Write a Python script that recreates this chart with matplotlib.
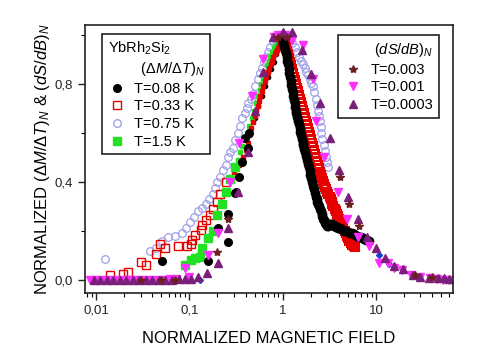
import matplotlib
matplotlib.use("Agg")
import matplotlib.pyplot as plt
from matplotlib.ticker import FixedLocator, FuncFormatter, LogLocator, NullFormatter
from matplotlib.lines import Line2D

plt.rcParams['font.family'] = ['Liberation Sans', 'DejaVu Sans']
plt.rcParams['mathtext.fontset'] = 'custom'
plt.rcParams['mathtext.rm'] = 'Liberation Sans'
plt.rcParams['mathtext.it'] = 'Liberation Sans:italic'

# --- (dM/dT)_N data, YbRh2Si2 ---
# T = 0.08 K (black): scattered low-field points, hidden rise, dense fall
b008_low_x = [0.051, 0.16, 0.205, 0.26, 0.26, 0.31, 0.32, 0.34, 0.37, 0.39, 0.42, 0.44]
b008_low_y = [0.078, 0.078, 0.21, 0.155, 0.27, 0.355, 0.36, 0.42, 0.48, 0.58, 0.54, 0.60]
b008_rise_x = [0.5, 0.55, 0.6, 0.65, 0.7, 0.75, 0.8, 0.85, 0.9, 0.95]
b008_rise_y = [0.66, 0.71, 0.75, 0.79, 0.83, 0.86, 0.89, 0.92, 0.945, 0.96]
b008_fall_x = [1.00, 1.02, 1.04, 1.06, 1.08, 1.10, 1.12, 1.14, 1.16, 1.18, 1.20, 1.22, 1.24,
               1.26, 1.28, 1.30, 1.32, 1.34, 1.36, 1.38, 1.40, 1.43, 1.46, 1.49, 1.52, 1.55,
               1.58, 1.61, 1.64, 1.67, 1.70, 1.74, 1.78, 1.82, 1.86, 1.90, 1.94, 1.98, 2.02,
               2.06, 2.11, 2.16, 2.21, 2.26, 2.31, 2.36, 2.41, 2.46, 2.51, 2.56, 2.61, 2.66,
               2.71, 2.76, 2.81, 2.86, 2.91, 2.96, 3.01, 3.07, 3.13, 3.2, 3.28, 3.36, 3.45,
               3.55, 3.65, 3.75, 3.85, 3.95, 4.1, 4.25, 4.4, 4.6, 4.8, 5.0, 5.25, 5.5, 5.75,
               6.0, 6.3, 6.6, 6.9, 7.2, 7.5, 7.8, 8.1, 8.4]
b008_fall_y = [0.97, 0.965, 0.955, 0.94, 0.925, 0.91, 0.895, 0.88, 0.86, 0.845, 0.83, 0.81, 0.795,
               0.78, 0.765, 0.75, 0.735, 0.72, 0.705, 0.69, 0.68, 0.665, 0.65, 0.635, 0.62, 0.605,
               0.59, 0.575, 0.56, 0.55, 0.535, 0.52, 0.505, 0.49, 0.475, 0.46, 0.445, 0.43, 0.415,
               0.40, 0.385, 0.37, 0.355, 0.34, 0.33, 0.32, 0.31, 0.30, 0.29, 0.28, 0.27, 0.26,
               0.25, 0.245, 0.238, 0.232, 0.227, 0.223, 0.22, 0.222, 0.226, 0.23, 0.23, 0.228, 0.225,
               0.222, 0.22, 0.218, 0.215, 0.213, 0.21, 0.207, 0.205, 0.20, 0.198, 0.195, 0.192, 0.19, 0.187,
               0.184, 0.18, 0.177, 0.174, 0.17, 0.167, 0.164, 0.162, 0.16]

# T = 0.33 K (red)
b033_low_x = [0.0141, 0.0195, 0.022, 0.0305, 0.0345, 0.044, 0.048, 0.055, 0.076, 0.095,
              0.105, 0.108, 0.116, 0.132, 0.138, 0.149, 0.168, 0.18, 0.2, 0.215, 0.245]
b033_low_y = [0.02, 0.024, 0.033, 0.073, 0.06, 0.106, 0.147, 0.13, 0.139, 0.139,
              0.147, 0.163, 0.184, 0.204, 0.224, 0.245, 0.265, 0.29, 0.32, 0.35, 0.40]
b033_rise_x = [0.27, 0.3, 0.32, 0.34, 0.36, 0.376, 0.4, 0.42, 0.44, 0.46, 0.48, 0.5,
               0.52, 0.54, 0.557, 0.573, 0.595, 0.62, 0.645, 0.67, 0.695, 0.72, 0.745,
               0.77, 0.795, 0.82, 0.845, 0.87, 0.89, 0.91, 0.93, 0.95, 0.965, 0.98]
b033_rise_y = [0.42, 0.44, 0.455, 0.47, 0.485, 0.50, 0.53, 0.56, 0.59, 0.62, 0.645, 0.67,
               0.69, 0.71, 0.73, 0.75, 0.77, 0.79, 0.81, 0.83, 0.848, 0.865, 0.88,
               0.895, 0.908, 0.92, 0.93, 0.94, 0.948, 0.955, 0.962, 0.97, 0.975, 0.98]
b033_fall_x = [1.00, 1.03, 1.06, 1.09, 1.12, 1.15, 1.18, 1.21, 1.24, 1.27, 1.30, 1.33, 1.36,
               1.39, 1.42, 1.46, 1.50, 1.54, 1.58, 1.62, 1.66, 1.70, 1.74, 1.78, 1.82, 1.86,
               1.91, 1.96, 2.01, 2.06, 2.11, 2.16, 2.22, 2.28, 2.34, 2.40, 2.46, 2.52, 2.59,
               2.66, 2.73, 2.80, 2.87, 2.94, 3.02, 3.10, 3.18, 3.26, 3.34, 3.42, 3.50, 3.60,
               3.70, 3.80, 3.90, 4.00, 4.12, 4.24, 4.36, 4.48, 4.62, 4.76, 4.90, 5.05, 5.2,
               5.4, 5.6, 5.8, 5.95]
b033_fall_y = [0.98, 0.975, 0.965, 0.95, 0.935, 0.92, 0.905, 0.89, 0.875, 0.86, 0.845, 0.83, 0.815,
               0.80, 0.785, 0.77, 0.755, 0.74, 0.725, 0.71, 0.695, 0.68, 0.665, 0.65, 0.635, 0.62,
               0.605, 0.59, 0.575, 0.56, 0.545, 0.53, 0.515, 0.50, 0.485, 0.47, 0.455, 0.44, 0.428,
               0.415, 0.403, 0.392, 0.38, 0.37, 0.36, 0.35, 0.34, 0.33, 0.32, 0.31, 0.30, 0.29,
               0.28, 0.27, 0.26, 0.25, 0.24, 0.23, 0.22, 0.21, 0.20, 0.19, 0.18, 0.17, 0.16,
               0.15, 0.143, 0.138, 0.135]

# T = 0.75 K (lavender)
b075_x = [0.0125, 0.038, 0.044, 0.051, 0.059, 0.07, 0.084, 0.093, 0.102, 0.112, 0.124,
          0.136, 0.149, 0.162, 0.177, 0.19,
          0.2, 0.215, 0.232, 0.245, 0.26, 0.275, 0.29, 0.31, 0.33, 0.35, 0.37, 0.39, 0.41,
          0.43, 0.455, 0.48, 0.51, 0.54, 0.57, 0.6, 0.635, 0.67, 0.705, 0.74, 0.78, 0.82,
          0.86, 0.9, 0.95, 1.0, 1.05, 1.1, 1.15, 1.2, 1.27, 1.35, 1.42, 1.5, 1.57, 1.65,
          1.72, 1.8, 1.87, 1.95, 2.02, 2.1, 2.17, 2.25, 2.32, 2.4, 2.45, 2.5, 2.55, 2.6,
          2.67, 2.75, 2.82, 2.9, 2.97, 3.05]
b075_y = [0.085, 0.12, 0.13, 0.16, 0.175, 0.18, 0.19, 0.21, 0.235, 0.255, 0.28,
          0.295, 0.31, 0.33, 0.35, 0.375,
          0.40, 0.42, 0.45, 0.47, 0.50, 0.52, 0.54, 0.57, 0.60, 0.63, 0.66, 0.68, 0.70,
          0.72, 0.74, 0.76, 0.79, 0.82, 0.845, 0.865, 0.89, 0.91, 0.93, 0.95, 0.97, 0.985,
          0.995, 1.0, 1.0, 1.0, 0.995, 0.99, 0.985, 0.98, 0.965, 0.95, 0.93, 0.91, 0.895, 0.88,
          0.865, 0.85, 0.835, 0.82, 0.805, 0.79, 0.765, 0.74, 0.715, 0.69, 0.67, 0.65, 0.625, 0.60,
          0.575, 0.55, 0.525, 0.50, 0.48, 0.46]

# T = 1.5 K (green)
b15_low_x = [0.0905, 0.105, 0.116, 0.13, 0.138, 0.16, 0.177, 0.2, 0.225, 0.244, 0.275, 0.31]
b15_low_y = [0.061, 0.082, 0.09, 0.094, 0.13, 0.17, 0.20, 0.265, 0.31, 0.36, 0.41, 0.46]
b15_rest_x = [0.33, 0.35, 0.37, 0.39, 0.415, 0.44, 0.465, 0.49, 0.515, 0.54, 0.565, 0.59,
              0.62, 0.65, 0.68, 0.71, 0.74, 0.77, 0.8, 0.83, 0.86, 0.89, 0.92, 0.95, 0.98,
              1.0, 1.1, 1.25, 1.45, 1.7, 2.0, 2.4, 2.9, 3.5, 4.5, 6.0, 7.5, 8.4]
b15_rest_y = [0.49, 0.52, 0.545, 0.57, 0.60, 0.63, 0.66, 0.69, 0.72, 0.75, 0.775, 0.80,
              0.825, 0.85, 0.875, 0.895, 0.915, 0.93, 0.945, 0.955, 0.965, 0.972, 0.978, 0.98, 0.978,
              0.97, 0.92, 0.80, 0.67, 0.54, 0.42, 0.32, 0.24, 0.22, 0.20, 0.185, 0.17, 0.16]

# --- (dS/dB)_N data ---
# T = 0.003 (stars)
s003_x = [0.03, 0.05, 0.07, 0.2, 0.26, 0.9, 1.1, 4.1, 5.2, 6.6, 26, 40]
s003_y = [0.0, 0.0, 0.0, 0.114, 0.25, 0.99, 0.99, 0.42, 0.31, 0.22, 0.02, 0.01]

# T = 0.001 (magenta down triangles)
s001_x = [0.0085, 0.0098, 0.0115, 0.0135, 0.016, 0.019, 0.022, 0.026, 0.031, 0.037,
          0.044, 0.052, 0.062, 0.072, 0.09, 0.098, 0.16, 0.205, 0.27, 0.34, 0.47,
          0.61, 0.8, 0.9, 1.05, 1.25, 1.64, 2.1, 2.3, 2.75, 3.9, 4.9, 6.4, 8.4, 10.9,
          13.5, 15.6, 19, 24, 30, 38, 45, 52, 60]
s001_y = [0.0, 0.0, 0.0, 0.0, 0.0, 0.0, 0.0, 0.0, 0.0, 0.0,
          0.0, 0.0, 0.005, 0.005, 0.05, 0.012, 0.10, 0.19, 0.40, 0.56, 0.75,
          0.90, 0.99, 1.0, 1.0, 0.98, 0.96, 0.82, 0.65, 0.50, 0.36, 0.25, 0.175, 0.14, 0.07,
          0.07, 0.05, 0.04, 0.02, 0.012, 0.008, 0.005, 0.0, 0.0]

# T = 0.0003 (purple up triangles)
s0003_x = [0.0095, 0.011, 0.013, 0.015, 0.018, 0.021, 0.025, 0.029, 0.034, 0.04,
           0.047, 0.055, 0.065, 0.077, 0.09, 0.105, 0.125, 0.155, 0.205, 0.26, 0.33,
           0.43, 0.51, 0.62, 0.78, 1.0, 1.27, 1.6, 2.0, 2.5, 3.2, 4.0, 5.0, 6.4, 8.0, 10,
           12.5, 15.6, 19.5, 25, 30, 37, 46, 53, 61]
s0003_y = [0.0, 0.0, 0.0, 0.0, 0.0, 0.0, 0.0, 0.0, 0.0, 0.0,
           0.0, 0.0, 0.0, 0.005, 0.005, 0.005, 0.012, 0.03, 0.07, 0.21, 0.36,
           0.52, 0.69, 0.85, 0.99, 1.01, 1.01, 0.94, 0.84, 0.72, 0.58, 0.45, 0.34, 0.25, 0.175, 0.13,
           0.09, 0.057, 0.045, 0.02, 0.012, 0.008, 0.008, 0.006, 0.005]

# a few small extra symbols (not in legend)
extra_x = [0.04, 0.05, 0.13, 10.8, 13.8]
extra_y = [0.0, 0.0, 0.0, 0.10, 0.065]

yticks = [0.0, 0.4, 0.8]
yminor = [0.2, 0.6, 1.0]
xticks = [0.01, 0.1, 1, 10]

BLACK = 'black'
RED = '#e60000'
LAV = '#a0a0ea'
GREEN = '#22e022'
MAG = '#ff30ff'
PURP = '#7a1f7a'
BROWN = '#6b2020'


def comma(v, pos):
    if v >= 1:
        return "%d" % v
    s = "%g" % v if v < 0.05 else "%.1f" % v
    return s.replace(".", ",")


def main():
    fig = plt.figure(figsize=(4.94, 3.63), dpi=100)
    ax = fig.add_axes([0.172, 0.193, 0.745, 0.738])

    ms = 5.5
    ax.plot(b075_x, b075_y, 'o', ms=ms, mfc='none', mec=LAV, mew=0.9, ls='none')
    ax.plot(b008_rise_x, b008_rise_y, 'o', ms=3, color=BLACK, ls='none')
    ax.plot(b15_rest_x, b15_rest_y, 's', ms=3, color=GREEN, ls='none')
    ax.plot(b033_rise_x, b033_rise_y, 's', ms=2.5, color=RED, ls='none')
    ax.plot(b033_low_x, b033_low_y, 's', ms=ms, mfc='none', mec=RED, mew=1.0, ls='none')
    ax.plot(b033_fall_x, b033_fall_y, 's', ms=ms, mfc='none', mec=RED, mew=1.5, ls='none')
    ax.plot(b15_low_x, b15_low_y, 's', ms=ms, color=GREEN, ls='none')
    ax.plot(b008_low_x, b008_low_y, 'o', ms=ms, color=BLACK, ls='none')
    ax.plot(b008_fall_x, b008_fall_y, 'o', ms=ms + 0.5, color=BLACK, ls='none')
    ax.plot(extra_x, extra_y, 'D', ms=3, color='#1a3fd0', ls='none')
    ax.plot(s001_x, s001_y, 'v', ms=ms, color=MAG, ls='none')
    ax.plot(s0003_x, s0003_y, '^', ms=ms, color=PURP, ls='none')
    ax.plot(s003_x, s003_y, '*', ms=6, color=BROWN, ls='none')

    ax.set_xscale('log')
    ax.set_xlim(0.0076, 67)
    ax.set_ylim(-0.053, 1.04)

    ax.xaxis.set_major_locator(FixedLocator(xticks))
    ax.xaxis.set_major_formatter(FuncFormatter(comma))
    ax.xaxis.set_minor_locator(LogLocator(base=10, subs=range(2, 10)))
    ax.xaxis.set_minor_formatter(NullFormatter())
    ax.yaxis.set_major_locator(FixedLocator(yticks))
    ax.yaxis.set_minor_locator(FixedLocator(yminor))
    ax.yaxis.set_major_formatter(FuncFormatter(lambda v, p: ("%.1f" % v).replace(".", ",")))

    ax.tick_params(which='major', direction='out', length=5, width=1.0, labelsize=9.5,
                   colors='#222222', top=False, right=False)
    ax.tick_params(which='minor', direction='out', length=3, width=0.8, top=False, right=False)
    for sp in ax.spines.values():
        sp.set_linewidth(1.2)
        sp.set_color('#222222')

    ax.set_xlabel("NORMALIZED MAGNETIC FIELD", fontsize=12, labelpad=10)
    ax.set_ylabel(r"NORMALIZED $(\mathit{\Delta M/\Delta T})_N$ & $(dS/dB)_N$",
                  fontsize=12, labelpad=2)

    h1 = [Line2D([], [], marker='o', ms=ms, color=BLACK, ls='none'),
          Line2D([], [], marker='s', ms=ms, mfc='white', mec=RED, ls='none'),
          Line2D([], [], marker='o', ms=ms, mfc='none', mec=LAV, ls='none'),
          Line2D([], [], marker='s', ms=ms, color=GREEN, ls='none')]
    leg1 = ax.legend(h1, ["T=0.08 K", "T=0.33 K", "T=0.75 K", "T=1.5 K"],
                     title="YbRh$_2$Si$_2$\n        $(\\Delta M/\\Delta T)_N$",
                     loc='upper left', bbox_to_anchor=(0.027, 0.993), fontsize=10.5,
                     title_fontsize=10.5, alignment='left', fancybox=False,
                     edgecolor='#222222', framealpha=1, labelspacing=0.25,
                     handletextpad=0.6, handlelength=1.2, borderpad=0.4)
    leg1.get_frame().set_linewidth(1.2)
    ax.add_artist(leg1)

    h2 = [Line2D([], [], marker='*', ms=6, color=BROWN, ls='none'),
          Line2D([], [], marker='v', ms=ms, color=MAG, ls='none'),
          Line2D([], [], marker='^', ms=ms, color=PURP, ls='none')]
    leg2 = ax.legend(h2, ["T=0.003", "T=0.001", "T=0.0003"],
                     title="$(dS/dB)_N$", loc='upper right',
                     bbox_to_anchor=(0.981, 0.989), fontsize=10.5, title_fontsize=10.5,
                     alignment='right', fancybox=False, edgecolor='#222222', framealpha=1,
                     labelspacing=0.25, handletextpad=0.6, handlelength=1.2, borderpad=0.4)
    leg2.get_frame().set_linewidth(1.2)

    fig.savefig("out.png", dpi=100)


if __name__ == "__main__":
    main()
